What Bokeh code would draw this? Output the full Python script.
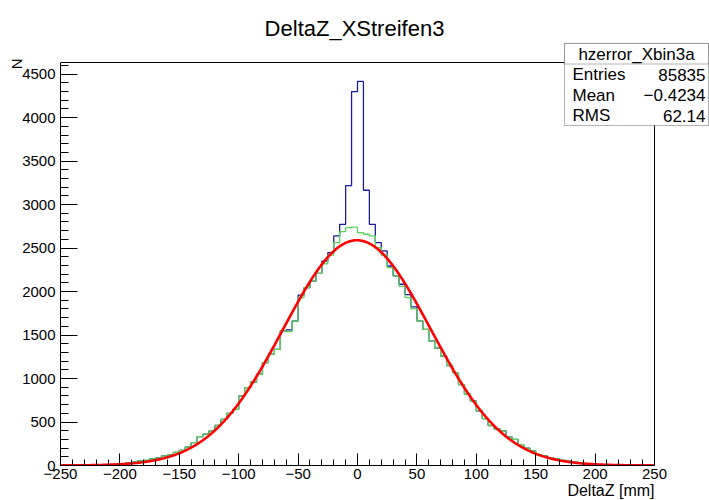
import numpy as np
from bokeh.plotting import figure
from bokeh.models import FixedTicker, Label, BoxAnnotation, Title
from bokeh.embed import file_html
from bokeh.resources import INLINE

# ---------------- data ----------------
bin_low = -250
bin_high = 250
bin_width = 5

# green histogram (100 bins of 5 mm, from -250 to 250)
green_counts = [
    0, 0, 1, 1, 2, 3, 5, 7, 11, 16,
    22, 30, 40, 52, 60, 77, 88, 110, 121, 150,
    175, 213, 262, 331, 360, 397, 460, 530, 600, 646,
    800, 895, 960, 1049, 1183, 1279, 1336, 1547, 1540, 1662,
    1930, 2045, 2120, 2210, 2320, 2420, 2563, 2690, 2735, 2740,
    2678, 2659, 2640, 2505, 2420, 2275, 2180, 2060, 1930, 1800,
    1662, 1566, 1432, 1350, 1259, 1150, 1067, 930, 819, 742,
    627, 540, 460, 420, 397, 330, 301, 240, 200, 167,
    125, 109, 90, 78, 60, 50, 40, 30, 20, 14,
    9, 6, 4, 2, 1, 1, 0, 0, 0, 0,
]

# blue histogram (same binning)
blue_counts = [
    0, 0, 1, 1, 2, 3, 5, 7, 11, 16,
    22, 30, 40, 52, 60, 77, 88, 110, 121, 150,
    175, 213, 262, 331, 360, 397, 460, 530, 600, 646,
    800, 895, 960, 1049, 1183, 1279, 1336, 1547, 1560, 1662,
    1958, 2045, 2120, 2210, 2350, 2447, 2640, 2773, 3218, 4300,
    4416, 3165, 2773, 2563, 2467, 2294, 2180, 2084, 1965, 1823,
    1662, 1566, 1432, 1350, 1259, 1150, 1067, 930, 819, 742,
    627, 540, 460, 420, 397, 330, 301, 240, 200, 167,
    125, 109, 90, 78, 60, 50, 40, 30, 20, 14,
    9, 6, 4, 2, 1, 1, 0, 0, 0, 0,
]

# gaussian fit parameters (red curve)
fit_constant = 2590.0
fit_mean = -0.5
fit_sigma = 62.0

x_ticks = [-250, -200, -150, -100, -50, 0, 50, 100, 150, 200, 250]
x_minor_step = 10
y_ticks = [0, 500, 1000, 1500, 2000, 2500, 3000, 3500, 4000, 4500]
y_minor_step = 100
y_max = 4634

title_text = "DeltaZ_XStreifen3"
x_title = "DeltaZ [mm]"
y_title = "N"
stats_name = "hzerror_Xbin3a"
stats_labels = ["Entries", "Mean", "RMS"]
stats_values = ["85835", "\u22120.4234", "62.14"]

FONT = "Liberation Sans"

# ---------------- layout (pixels) ----------------
W, H = 709, 500
ML, MB = 60, 35                 # left / bottom margins (axes live there)
AX_RIGHT_PX, AX_TOP_PX = 654, 62  # ROOT frame right / top edge in pixels
FB = H - MB                     # frame bottom in canvas pixels

px_per_x = (AX_RIGHT_PX - ML) / (bin_high - bin_low)
px_per_y = (FB - AX_TOP_PX) / y_max
x_end = bin_low + (W - ML) / px_per_x
y_end = FB / px_per_y

p = figure(width=W, height=H, x_range=(bin_low, x_end), y_range=(0, y_end),
           output_backend="svg", toolbar_location=None, title=None,
           min_border_left=ML, min_border_right=0, min_border_top=0, min_border_bottom=MB)
p.grid.visible = False
p.background_fill_color = "white"
p.border_fill_color = "white"
p.outline_line_color = None

def minus(v):
    return str(v).replace("-", "\u2212")

xa = p.xaxis[0]
xa.bounds = (bin_low, bin_high)
xa.ticker = FixedTicker(ticks=x_ticks,
                        minor_ticks=list(range(bin_low, bin_high + 1, x_minor_step)))
xa.major_label_overrides = {v: minus(v) for v in x_ticks}
xa.major_tick_in = 12
xa.major_tick_out = 0
xa.minor_tick_in = 6
xa.minor_tick_out = 0
xa.major_label_standoff = 3
xa.major_label_text_font = FONT
xa.major_label_text_font_size = "15px"
xa.major_label_text_color = "black"
xa.axis_line_color = "black"
xa.major_tick_line_color = "black"
xa.minor_tick_line_color = "black"

ya = p.yaxis[0]
ya.bounds = (0, y_max)
ya.ticker = FixedTicker(ticks=y_ticks,
                        minor_ticks=list(range(0, y_max, y_minor_step)))
ya.major_label_overrides = {v: str(v) for v in y_ticks}
ya.major_tick_in = 17
ya.major_tick_out = 0
ya.minor_tick_in = 8
ya.minor_tick_out = 0
ya.major_label_standoff = 5
ya.major_label_text_font = FONT
ya.major_label_text_font_size = "15px"
ya.major_label_text_color = "black"
ya.axis_line_color = "black"
ya.major_tick_line_color = "black"
ya.minor_tick_line_color = "black"

# axis titles in the side panels
p.add_layout(Title(text=x_title, align="right", offset=W - AX_RIGHT_PX, standoff=-3,
                   text_font=FONT, text_font_size="16px", text_font_style="normal",
                   text_color="black"), "below")
p.add_layout(Title(text=y_title, align="right", offset=AX_TOP_PX - 4, standoff=-10,
                   text_font=FONT, text_font_size="15px", text_font_style="normal",
                   text_color="black"), "left")

# ROOT frame box
p.quad(left=[bin_low], right=[bin_high], bottom=[0], top=[y_max],
       fill_color=None, line_color="black", line_width=1)

# ---------------- histograms ----------------
edges = np.arange(bin_low, bin_high + bin_width, bin_width)
p.step(x=edges, y=list(blue_counts) + [blue_counts[-1]], mode="after",
       line_color="#1a1a9a", line_width=1.3)
p.step(x=edges, y=list(green_counts) + [green_counts[-1]], mode="after",
       line_color="#5ad45a", line_width=1.3)

xs = np.linspace(bin_low, bin_high, 1001)
ys = fit_constant * np.exp(-0.5 * ((xs - fit_mean) / fit_sigma) ** 2)
p.line(xs, ys, line_color="#ff0000", line_width=2.6)

# ---------------- texts (screen px relative to frame) ----------------
def sx(px):
    return px - ML

def sy(py):
    return FB - py

p.add_layout(Label(x=sx(354), y=sy(28), x_units="screen", y_units="screen",
                   text=title_text, text_align="center", text_baseline="middle",
                   text_font=FONT, text_font_size="22px", text_color="black"))

# ---------------- stats box ----------------
bx0, bx1, by0, by1, bsep = 564, 708, 43, 125, 63.5
p.add_layout(BoxAnnotation(left=sx(bx0), right=sx(bx1), top=sy(by0), bottom=sy(by1),
                           left_units="screen", right_units="screen",
                           top_units="screen", bottom_units="screen",
                           fill_color="white", fill_alpha=1.0,
                           line_color="black", line_width=1))
p.add_layout(BoxAnnotation(left=sx(bx0), right=sx(bx1), top=sy(by0), bottom=sy(bsep),
                           left_units="screen", right_units="screen",
                           top_units="screen", bottom_units="screen",
                           fill_color="white", fill_alpha=1.0,
                           line_color="black", line_width=1))
p.add_layout(Label(x=sx((bx0 + bx1) / 2), y=sy(53.5), x_units="screen", y_units="screen",
                   text=stats_name, text_align="center", text_baseline="middle",
                   text_font=FONT, text_font_size="17px", text_color="black"))
row_y = [74, 94.5, 115]
for lab, val, ry in zip(stats_labels, stats_values, row_y):
    p.add_layout(Label(x=sx(572), y=sy(ry), x_units="screen", y_units="screen",
                       text=lab, text_align="left", text_baseline="middle",
                       text_font=FONT, text_font_size="17px", text_color="black"))
    p.add_layout(Label(x=sx(705), y=sy(ry), x_units="screen", y_units="screen",
                       text=val, text_align="right", text_baseline="middle",
                       text_font=FONT, text_font_size="17px", text_color="black"))

open("out.html", "w").write(file_html(p, INLINE))
